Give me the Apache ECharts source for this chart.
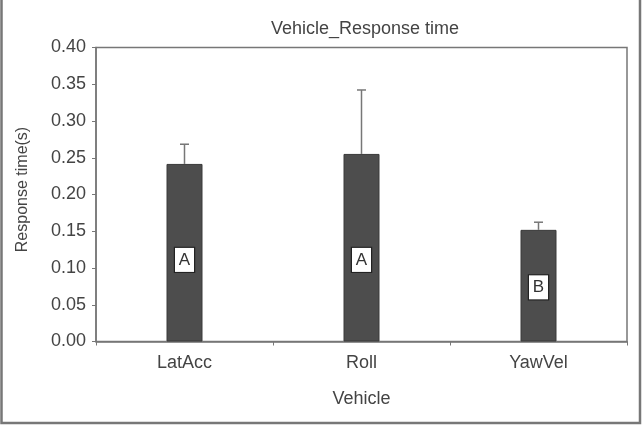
<!DOCTYPE html>
<html>
<head>
<meta charset="utf-8">
<script src="https://cdn.jsdelivr.net/npm/echarts@6/dist/echarts.min.js"></script>
<style>
  html, body { margin: 0; padding: 0; background: #fff; }
  #chart { width: 644px; height: 426px; }
</style>
</head>
<body>
<div id="chart"></div>
<script>
const categories = ["LatAcc", "Roll", "YawVel"];
const meanTimes = [0.2416, 0.2552, 0.1519];
const errUpper = [0.0268, 0.087, 0.0104];
const groupLetters = ["A", "A", "B"];
const letterY = [0.111, 0.111, 0.0737];
const yTicks = [0, 0.4, 0.05];

const font = "Liberation Sans";
const chart = echarts.init(document.getElementById("chart"));

const option = {
  animation: false,
  backgroundColor: "#fff",
  title: {
    text: "Vehicle_Response time",
    left: 360,
    top: 15,
    textAlign: "center",
    textStyle: { fontFamily: font, fontSize: 18, fontWeight: "normal", color: "#444" }
  },
  grid: { left: 96, right: 17, top: 47.5, bottom: 84.5 },
  xAxis: {
    type: "category",
    data: categories,
    name: "Vehicle",
    nameLocation: "middle",
    nameGap: 49,
    nameTextStyle: { fontFamily: font, fontSize: 18, color: "#444" },
    axisLine: { lineStyle: { color: "#777", width: 1.5 } },
    axisTick: { show: true, length: 4, alignWithLabel: false, lineStyle: { color: "#777" } },
    axisLabel: { fontFamily: font, fontSize: 18, color: "#444", margin: 13 }
  },
  yAxis: {
    type: "value",
    min: yTicks[0],
    max: yTicks[1],
    interval: yTicks[2],
    name: "Response time(s)",
    nameLocation: "middle",
    nameGap: 65,
    nameTextStyle: { fontFamily: font, fontSize: 16, color: "#444", padding: [0, 0, 0, 10] },
    axisLine: { show: true, lineStyle: { color: "#777", width: 1.5 } },
    axisTick: { show: true, length: 4, lineStyle: { color: "#777" } },
    axisLabel: {
      fontFamily: font, fontSize: 18, color: "#444", margin: 10,
      formatter: v => v.toFixed(2)
    },
    splitLine: { show: false }
  },
  graphic: [
    {
      type: "rect",
      shape: { x: 96, y: 47.5, width: 531, height: 294 },
      style: { fill: "none", stroke: "#777", lineWidth: 1.5 },
      silent: true,
      z: 0
    },
    {
      type: "polyline",
      shape: { points: [[1.5, 0], [1.5, 423], [640, 423], [640, 0]] },
      style: { fill: "none", stroke: "#777", lineWidth: 2.5 },
      silent: true
    }
  ],
  series: [
    {
      type: "bar",
      data: meanTimes,
      barWidth: 36,
      itemStyle: { color: "#4d4d4d", borderColor: "#3a3a3a", borderWidth: 1 },
      z: 2
    },
    {
      type: "custom",
      data: meanTimes.map((m, i) => [i, m, m + errUpper[i]]),
      renderItem: (params, api) => {
        const base = api.coord([api.value(0), api.value(1)]);
        const top = api.coord([api.value(0), api.value(2)]);
        const cap = 4.5;
        return {
          type: "group",
          children: [
            { type: "line", shape: { x1: base[0], y1: base[1], x2: top[0], y2: top[1] },
              style: { stroke: "#777", lineWidth: 1.5 } },
            { type: "line", shape: { x1: top[0] - cap, y1: top[1], x2: top[0] + cap, y2: top[1] },
              style: { stroke: "#777", lineWidth: 1.5 } }
          ]
        };
      },
      z: 3
    },
    {
      type: "scatter",
      data: letterY.map((y, i) => [i, y]),
      symbolSize: 0,
      itemStyle: { opacity: 1 },
      label: {
        show: true,
        position: "inside",
        formatter: p => groupLetters[p.dataIndex],
        fontFamily: font,
        fontSize: 17,
        color: "#333",
        backgroundColor: "#fff",
        borderColor: "#222",
        borderWidth: 1.2,
        padding: [4, 3, 3, 3],
        width: 13,
        align: "center"
      },
      z: 4
    }
  ]
};

chart.setOption(option);
</script>
</body>
</html>
